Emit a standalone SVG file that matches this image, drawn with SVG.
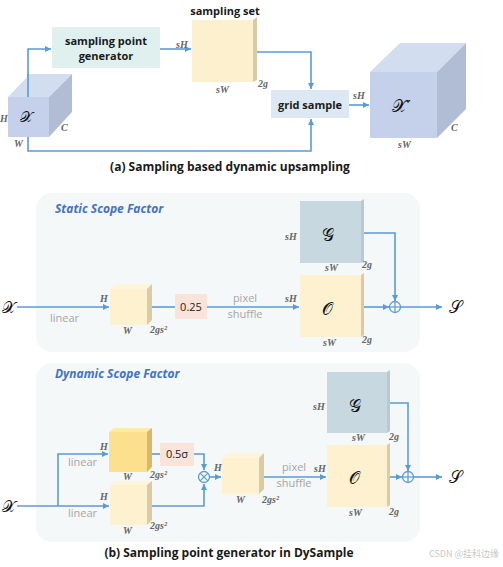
<svg xmlns="http://www.w3.org/2000/svg" width="503" height="567" viewBox="0 0 503 567">
<defs>
<marker id="ah" markerWidth="8" markerHeight="8" refX="6" refY="3" orient="auto" markerUnits="userSpaceOnUse">
<path d="M0,0 L6,3 L0,6 Z" fill="#5b9bd5"/>
</marker>
<style>
.ln{fill:none;stroke:#5b9bd5;stroke-width:1.6}
.bt{font-family:"Open Sans","Liberation Sans",sans-serif;font-weight:bold;fill:#1a1a1a}
.dim{font-family:"Liberation Serif",serif;font-style:italic;font-weight:bold;font-size:10px;fill:#666}
.gr{font-family:"Open Sans","Liberation Sans",sans-serif;font-size:11px;fill:#a6a6a6}
.math{font-family:"DejaVu Serif","Liberation Serif",serif;fill:#111}
.ttl{font-family:"Open Sans","Liberation Sans",sans-serif;font-style:italic;font-weight:bold;font-size:12px;fill:#4472c4}
.panel{fill:#f4f8f8}
.beige{fill:#fdf1cf}
.beigeS{fill:#d9cba6}
</style>
</defs>
<rect width="503" height="567" fill="#ffffff"/>

<!-- Part (a) -->
<g id="connectors-a">
<polyline class="ln" points="28,97 28,49 51,49" marker-end="url(#ah)"/>
<line class="ln" x1="160" y1="49" x2="191" y2="49" marker-end="url(#ah)"/>
<polyline class="ln" points="255,52 311,52 311,89" marker-end="url(#ah)"/>
<polyline class="ln" points="28,137 28,151 311,151 311,119" marker-end="url(#ah)"/>
<line class="ln" x1="349" y1="105" x2="369" y2="105" marker-end="url(#ah)"/>
</g>
<g id="node-x">
<polygon points="8,97 30,74 72,74 49,97" fill="#d3ddf0"/>
<polygon points="49,97 72,74 72,112 49,137" fill="#b1bdd4"/>
<rect x="8" y="97" width="41" height="40" fill="#c5d1eb"/>
<line class="ln" x1="28" y1="74" x2="28" y2="97"/>
<text class="math" x="20" y="122" font-size="15">𝒳</text>
<text class="dim" x="0" y="122">H</text>
<text class="dim" x="14" y="147">W</text>
<text class="dim" x="61" y="131">C</text>
</g>
<g id="node-spg">
<rect x="52" y="27" width="108" height="41" fill="#dff0ee"/>
<text class="bt" x="106" y="45" font-size="11" text-anchor="middle">sampling point</text>
<text class="bt" x="106" y="60" font-size="11" text-anchor="middle">generator</text>
</g>
<g id="node-sset">
<rect x="192" y="20" width="61" height="62" fill="#fdf0cf"/>
<polygon points="253,20 257,17 257,80 253,82" fill="#d9cba6"/>
<text class="bt" x="225" y="15" font-size="11" text-anchor="middle">sampling set</text>
<text class="dim" x="176" y="48">sH</text>
<text class="dim" x="216" y="93">sW</text>
<text class="dim" x="258" y="87">2g</text>
</g>
<g id="node-grid">
<rect x="271" y="90" width="78" height="28" fill="#dde8f5"/>
<text class="bt" x="310" y="109" font-size="11" text-anchor="middle">grid sample</text>
<text class="dim" x="353" y="99">sH</text>
</g>
<g id="node-xp">
<polygon points="370,72 400,43 466,43 437,72" fill="#d3ddf0"/>
<polygon points="437,72 466,43 466,109 437,138" fill="#b1bdd4"/>
<rect x="370" y="72" width="67" height="66" fill="#c5d1eb"/>
<text class="math" x="392" y="112" font-size="17">𝒳′</text>
<text class="dim" x="451" y="131">C</text>
<text class="dim" x="398" y="148">sW</text>
</g>
<text class="bt" x="230" y="171" font-size="12" text-anchor="middle">(a) Sampling based dynamic upsampling</text>

<!-- Part (b) static -->
<g id="panel-static">
<rect class="panel" x="36" y="193" width="384" height="159" rx="16"/>
<text class="ttl" x="55" y="213">Static Scope Factor</text>
</g>
<g id="connectors-static">
<line class="ln" x1="17" y1="307" x2="109" y2="307" marker-end="url(#ah)"/>
<line class="ln" x1="147" y1="307" x2="175" y2="307"/>
<line class="ln" x1="207" y1="307" x2="299" y2="307" marker-end="url(#ah)"/>
<polyline class="ln" points="361,233 395,233 395,301" marker-end="url(#ah)"/>
<line class="ln" x1="361" y1="307" x2="389" y2="307" marker-end="url(#ah)"/>
<line class="ln" x1="400" y1="307" x2="442" y2="307" marker-end="url(#ah)"/>
</g>
<g id="node-x-s">
<text class="math" x="2" y="313" font-size="16">𝒳</text>
<text class="gr" x="50" y="322">linear</text>
</g>
<g id="node-lin-s">
<polygon points="110,289 115,284 152,284 147,289" fill="#fdf4dc"/>
<polygon points="147,289 152,284 152,320 147,325" class="beigeS"/>
<rect class="beige" x="110" y="289" width="37" height="36"/>
<text class="dim" x="100" y="302">H</text>
<text class="dim" x="123" y="334">W</text>
<text class="dim" x="150" y="333">2gs²</text>
</g>
<g id="node-025">
<rect x="175" y="294" width="32" height="25" fill="#fae3d8"/>
<text x="191" y="311" font-family="Open Sans,Liberation Sans,sans-serif" font-size="11" fill="#222" text-anchor="middle">0.25</text>
</g>
<text class="gr" x="245" y="302" text-anchor="middle">pixel</text>
<text class="gr" x="245" y="318" text-anchor="middle">shuffle</text>
<g id="node-g-s">
<rect x="300" y="201" width="61" height="62" fill="#c8d8e0"/>
<polygon points="361,201 364,199 364,261 361,263" fill="#b8c9d1"/>
<text class="math" x="322" y="241" font-size="17">𝒢</text>
<text class="dim" x="285" y="240">sH</text>
<text class="dim" x="325" y="271">sW</text>
<text class="dim" x="362" y="268">2g</text>
</g>
<g id="node-o-s">
<rect class="beige" x="300" y="275" width="61" height="62"/>
<polygon points="361,275 364,273 364,335 361,337" class="beigeS"/>
<text class="math" x="322" y="315" font-size="17">𝒪</text>
<text class="dim" x="285" y="302">sH</text>
<text class="dim" x="323" y="346">sW</text>
<text class="dim" x="362" y="343">2g</text>
</g>
<g id="node-plus-s">
<circle cx="395" cy="307" r="5.5" fill="none" stroke="#5b9bd5" stroke-width="1.3"/>
<line x1="389.5" y1="307" x2="400.5" y2="307" stroke="#5b9bd5" stroke-width="1.2"/>
<line x1="395" y1="301.5" x2="395" y2="312.5" stroke="#5b9bd5" stroke-width="1.2"/>
</g>
<text class="math" x="449" y="313" font-size="17">𝒮</text>

<!-- Part (b) dynamic -->
<g id="panel-dynamic">
<rect class="panel" x="36" y="363" width="384" height="179" rx="16"/>
<text class="ttl" x="55" y="378">Dynamic Scope Factor</text>
</g>
<g id="connectors-dynamic">
<line class="ln" x1="17" y1="506" x2="109" y2="506" marker-end="url(#ah)"/>
<polyline class="ln" points="58,506 58,454 108,454" marker-end="url(#ah)"/>
<line class="ln" x1="147" y1="454" x2="160" y2="454"/>
<polyline class="ln" points="194,454 204,454 204,470" marker-end="url(#ah)"/>
<polyline class="ln" points="147,506 204,506 204,484" marker-end="url(#ah)"/>
<line class="ln" x1="210" y1="477" x2="221" y2="477" marker-end="url(#ah)"/>
<line class="ln" x1="259" y1="477" x2="326" y2="477" marker-end="url(#ah)"/>
<polyline class="ln" points="387,403 408,403 408,471" marker-end="url(#ah)"/>
<line class="ln" x1="387" y1="477" x2="402" y2="477" marker-end="url(#ah)"/>
<line class="ln" x1="413" y1="477" x2="442" y2="477" marker-end="url(#ah)"/>
</g>
<g id="node-x-d">
<text class="math" x="2" y="512" font-size="16">𝒳</text>
<text class="gr" x="68" y="466">linear</text>
<text class="gr" x="68" y="517">linear</text>
</g>
<g id="node-lin1">
<polygon points="109,432 114,428 152,428 147,432" fill="#fde9a8"/>
<polygon points="147,432 152,428 152,467 147,472" fill="#d8b968"/>
<rect x="109" y="432" width="38" height="40" fill="#fde08e"/>
<text class="dim" x="100" y="450">H</text>
<text class="dim" x="123" y="480">W</text>
<text class="dim" x="150" y="478">2gs²</text>
</g>
<g id="node-lin2">
<polygon points="110,485 115,481 152,481 147,485" fill="#fdf4dc"/>
<polygon points="147,485 152,481 152,520 147,525" class="beigeS"/>
<rect class="beige" x="110" y="485" width="37" height="40"/>
<text class="dim" x="100" y="500">H</text>
<text class="dim" x="123" y="534">W</text>
<text class="dim" x="150" y="529">2gs²</text>
</g>
<g id="node-05s">
<rect x="160" y="443" width="34" height="23" fill="#fae3d8"/>
<text x="177" y="458" font-family="Open Sans,Liberation Sans,sans-serif" font-size="11" fill="#222" text-anchor="middle">0.5σ</text>
</g>
<g id="node-times">
<circle cx="204" cy="477" r="5.5" fill="none" stroke="#5b9bd5" stroke-width="1.3"/>
<line x1="200.1" y1="473.1" x2="207.9" y2="480.9" stroke="#5b9bd5" stroke-width="1.2"/>
<line x1="207.9" y1="473.1" x2="200.1" y2="480.9" stroke="#5b9bd5" stroke-width="1.2"/>
</g>
<g id="node-lin3">
<polygon points="222,458 227,453 264,453 259,458" fill="#fdf4dc"/>
<polygon points="259,458 264,453 264,489 259,494" class="beigeS"/>
<rect class="beige" x="222" y="458" width="37" height="36"/>
<text class="dim" x="214" y="471">H</text>
<text class="dim" x="236" y="503">W</text>
<text class="dim" x="262" y="503">2gs²</text>
</g>
<text class="gr" x="294" y="471" text-anchor="middle">pixel</text>
<text class="gr" x="294" y="487" text-anchor="middle">shuffle</text>
<g id="node-g-d">
<rect x="327" y="372" width="60" height="61" fill="#c8d8e0"/>
<polygon points="387,372 390,370 390,431 387,433" fill="#b8c9d1"/>
<text class="math" x="349" y="412" font-size="17">𝒢</text>
<text class="dim" x="313" y="410">sH</text>
<text class="dim" x="352" y="441">sW</text>
<text class="dim" x="389" y="440">2g</text>
</g>
<g id="node-o-d">
<rect class="beige" x="327" y="445" width="60" height="62"/>
<polygon points="387,445 390,443 390,505 387,507" class="beigeS"/>
<text class="math" x="349" y="484" font-size="17">𝒪</text>
<text class="dim" x="314" y="472">sH</text>
<text class="dim" x="349" y="516">sW</text>
<text class="dim" x="389" y="515">2g</text>
</g>
<g id="node-plus-d">
<circle cx="408" cy="477" r="5.5" fill="none" stroke="#5b9bd5" stroke-width="1.3"/>
<line x1="402.5" y1="477" x2="413.5" y2="477" stroke="#5b9bd5" stroke-width="1.2"/>
<line x1="408" y1="471.5" x2="408" y2="482.5" stroke="#5b9bd5" stroke-width="1.2"/>
</g>
<text class="math" x="449" y="483" font-size="17">𝒮</text>
<text class="bt" x="229" y="557" font-size="12" text-anchor="middle">(b) Sampling point generator in DySample</text>
<text x="499" y="557" font-family="Noto Sans CJK SC,Liberation Sans,sans-serif" font-size="9" fill="#c8c8c8" text-anchor="end">CSDN @挂科边缘</text>
</svg>
